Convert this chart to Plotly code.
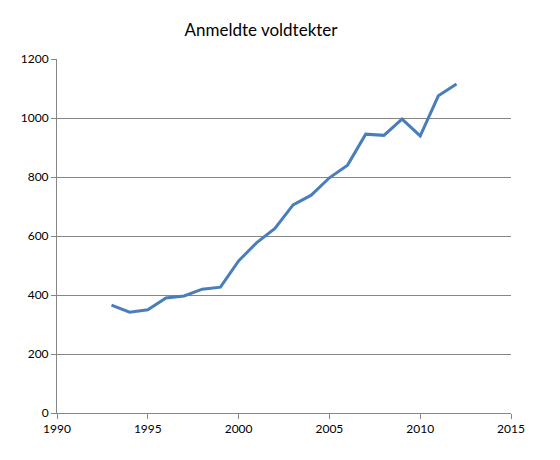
import plotly.graph_objects as go

# Anmeldte voldtekter per år (lest av figuren)
years = [1993, 1994, 1995, 1996, 1997, 1998, 1999, 2000, 2001, 2002,
         2003, 2004, 2005, 2006, 2007, 2008, 2009, 2010, 2011, 2012]
reported = [366, 342, 350, 390, 397, 420, 427, 516, 578, 626,
            706, 739, 798, 841, 946, 942, 997, 940, 1076, 1116]

x_ticks = [1990, 1995, 2000, 2005, 2010, 2015]
y_ticks = [0, 200, 400, 600, 800, 1000, 1200]

# the page has an 8px body margin, so the figure is a bit smaller
W, H = 552, 452
m_l, m_r, m_t, m_b = 49, 49, 51, 47

fig = go.Figure()
fig.add_trace(go.Scatter(
    x=years, y=reported, mode="lines",
    line=dict(color="#4a7ebb", width=3),
    showlegend=False,
))

axis_font = dict(family="Lato, 'Open Sans', sans-serif", size=12, color="#000000")

fig.update_layout(
    width=W, height=H,
    margin=dict(l=m_l, r=m_r, t=m_t, b=m_b),
    paper_bgcolor="white", plot_bgcolor="white",
    title=dict(
        text="Anmeldte voldtekter",
        x=253 / W, xanchor="center",
        y=1 - 22 / H, yanchor="middle",
        font=dict(family="Lato, 'Open Sans', sans-serif", size=17, color="#000000"),
    ),
    xaxis=dict(
        range=[1990, 2015], tickvals=x_ticks, ticktext=[str(v) for v in x_ticks],
        showgrid=False, zeroline=False,
        showline=True, linecolor="#868686", linewidth=1,
        ticks="outside", ticklen=5, tickcolor="#868686",
        tickfont=axis_font,
    ),
    yaxis=dict(
        range=[0, 1201], tickvals=y_ticks, ticktext=[str(v) for v in y_ticks],
        showgrid=True, gridcolor="#868686", gridwidth=1, zeroline=False,
        showline=True, linecolor="#868686", linewidth=1,
        ticks="outside", ticklen=5, tickcolor="#868686",
        tickfont=axis_font,
    ),
)

fig.write_html("out.html")
